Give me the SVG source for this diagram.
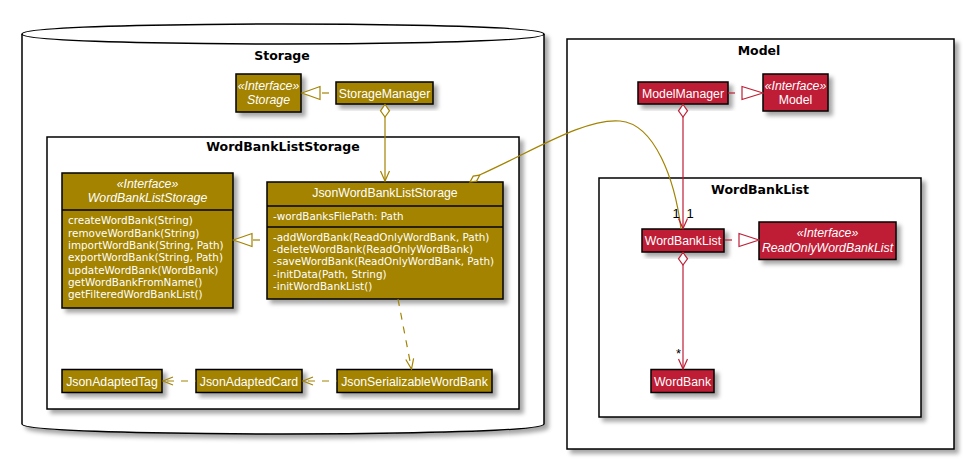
<svg xmlns="http://www.w3.org/2000/svg" width="963" height="459" viewBox="0 0 963 459">
<defs>
<filter id="sh" x="-10%" y="-10%" width="130%" height="140%"><feDropShadow dx="4" dy="4" stdDeviation="2" flood-color="#000" flood-opacity="0.35"/></filter>
</defs>
<style>
.pkg{fill:#fff;stroke:#000;stroke-width:1.5;filter:url(#sh)}
.st{fill:#A38300;stroke:#000;stroke-width:1.5;filter:url(#sh)}
.md{fill:#BF1F36;stroke:#000;stroke-width:1.5;filter:url(#sh)}
.cn{font-family:"Liberation Sans",Arial,sans-serif;font-size:12.3px;fill:#fff;text-anchor:middle}
.it{font-style:italic}
.mb{font-family:"DejaVu Sans",sans-serif;font-size:10.4px;fill:#fff}
.pt{font-family:"DejaVu Sans",sans-serif;font-weight:bold;font-size:12.5px;text-anchor:middle;fill:#000}
.sep{stroke:#000;stroke-width:1.5}
.gl{fill:none;stroke:#A38300;stroke-width:1.2}
.rl{fill:none;stroke:#BF1F36;stroke-width:1.2}
.gd{fill:#fff;stroke:#A38300;stroke-width:1.2}
.rd{fill:#fff;stroke:#BF1F36;stroke-width:1.2}
.lbl{font-family:"Liberation Sans",Arial,sans-serif;font-size:13px;fill:#000}
</style>

<g id="pkg-storage">
<path class="pkg" d="M22,34 C22,24 283,24 283,24 C283,24 544,24 544,34 L544,424 C544,434 283,434 283,434 C283,434 22,434 22,424 Z"/>
<path d="M22,34 C22,44 283,44 283,44 C283,44 544,44 544,34" fill="none" stroke="#000" stroke-width="1.5"/>
<text class="pt" x="282" y="60">Storage</text>
</g>
<g id="pkg-wordbankliststorage">
<rect class="pkg" x="47" y="137" width="472" height="272"/>
<text class="pt" x="283" y="151">WordBankListStorage</text>
</g>
<g id="pkg-model">
<rect class="pkg" x="567" y="39" width="387" height="410"/>
<text class="pt" x="759" y="55">Model</text>
</g>
<g id="pkg-wordbanklist">
<rect class="pkg" x="599" y="178" width="322" height="239"/>
<text class="pt" x="760" y="194">WordBankList</text>
</g>

<g id="Storage">
<rect class="st" x="236" y="74" width="65" height="38"/>
<text class="cn it" x="268.5" y="90">«Interface»</text>
<text class="cn it" x="268.5" y="104">Storage</text>
</g>
<g id="StorageManager">
<rect class="st" x="336" y="82" width="97" height="22"/>
<text class="cn" x="384.5" y="97.5">StorageManager</text>
</g>
<g id="WordBankListStorage">
<rect class="st" x="62" y="173" width="171" height="135"/>
<text class="cn it" x="147.5" y="188">«Interface»</text>
<text class="cn it" x="147.5" y="201.5">WordBankListStorage</text>
<line class="sep" x1="62" y1="210" x2="233" y2="210"/>
<text class="mb" x="68" y="224">createWordBank(String)</text>
<text class="mb" x="68" y="236.5">removeWordBank(String)</text>
<text class="mb" x="68" y="249">importWordBank(String, Path)</text>
<text class="mb" x="68" y="261.3">exportWordBank(String, Path)</text>
<text class="mb" x="68" y="273.6">updateWordBank(WordBank)</text>
<text class="mb" x="68" y="286">getWordBankFromName()</text>
<text class="mb" x="68" y="298.3">getFilteredWordBankList()</text>
</g>
<g id="JsonWordBankListStorage">
<rect class="st" x="267" y="182" width="236" height="117"/>
<text class="cn" x="385" y="197">JsonWordBankListStorage</text>
<line class="sep" x1="267" y1="206" x2="503" y2="206"/>
<text class="mb" x="273" y="219.5">-wordBanksFilePath: Path</text>
<line class="sep" x1="267" y1="227" x2="503" y2="227"/>
<text class="mb" x="273" y="240.5">-addWordBank(ReadOnlyWordBank, Path)</text>
<text class="mb" x="273" y="253">-deleteWordBank(ReadOnlyWordBank)</text>
<text class="mb" x="273" y="265.3">-saveWordBank(ReadOnlyWordBank, Path)</text>
<text class="mb" x="273" y="277.6">-initData(Path, String)</text>
<text class="mb" x="273" y="290">-initWordBankList()</text>
</g>
<g id="JsonAdaptedTag">
<rect class="st" x="62" y="369.5" width="100" height="23"/>
<text class="cn" x="112" y="385.5">JsonAdaptedTag</text>
</g>
<g id="JsonAdaptedCard">
<rect class="st" x="196" y="369.5" width="106" height="23"/>
<text class="cn" x="249" y="385.5">JsonAdaptedCard</text>
</g>
<g id="JsonSerializableWordBank">
<rect class="st" x="337" y="369.5" width="155" height="23"/>
<text class="cn" x="414.5" y="385.5">JsonSerializableWordBank</text>
</g>

<g id="ModelManager">
<rect class="md" x="638" y="82" width="90" height="22"/>
<text class="cn" x="683" y="97.5">ModelManager</text>
</g>
<g id="Model">
<rect class="md" x="763" y="74" width="65" height="37"/>
<text class="cn it" x="795.5" y="90">«Interface»</text>
<text class="cn" x="795.5" y="104">Model</text>
</g>
<g id="WordBankList">
<rect class="md" x="642" y="229" width="82" height="23"/>
<text class="cn" x="683" y="245">WordBankList</text>
</g>
<g id="ReadOnlyWordBankList">
<rect class="md" x="759" y="222" width="137" height="37.5"/>
<text class="cn it" x="827.5" y="236.5">«Interface»</text>
<text class="cn it" x="827.5" y="251.5">ReadOnlyWordBankList</text>
</g>
<g id="WordBank">
<rect class="md" x="651" y="369.5" width="63" height="23"/>
<text class="cn" x="682.5" y="385.5">WordBank</text>
</g>

<g id="connectors">
<line class="gl" x1="322" y1="93" x2="329" y2="93"/>
<polygon class="gd" points="302,93 320,86.5 320,99.5"/>
<line class="gl" x1="253" y1="240" x2="260" y2="240"/>
<polygon class="gd" points="233.5,240 252,233.5 252,246.5"/>
<line class="gl" x1="385" y1="117" x2="385" y2="181"/>
<polygon class="gd" points="385,104.5 389.5,110.8 385,117 380.5,110.8"/>
<polyline class="gl" points="380.5,171 385,181 389.5,171"/>
<line class="gl" x1="398" y1="299" x2="411.5" y2="369" stroke-dasharray="7,7"/>
<polyline class="gl" points="405.8,359.5 411.5,369 413.6,358.3"/>
<line class="gl" x1="337" y1="381" x2="303" y2="381" stroke-dasharray="7,7" stroke-dashoffset="6"/>
<polyline class="gl" points="313,377 303,381 313,385"/>
<line class="gl" x1="196" y1="381" x2="163" y2="381" stroke-dasharray="7,7" stroke-dashoffset="6"/>
<polyline class="gl" points="173,377 163,381 173,385"/>
<path class="gl" d="M479.5,175 C535,150 585,118 620,121 C655,124 675,180 681,229"/>
<polygon class="gd" points="470,182 476.6,181.1 479.8,175.1 473.2,176.1"/>
<line class="rl" x1="728" y1="93" x2="735" y2="93"/>
<polygon class="rd" points="763,93 742,86.5 742,99.5"/>
<line class="rl" x1="725" y1="240" x2="732" y2="240"/>
<polygon class="rd" points="759,240 739,233.5 739,246.5"/>
<line class="rl" x1="683" y1="117" x2="683" y2="228.5"/>
<polygon class="rd" points="683,104.5 687.5,110.8 683,117 678.5,110.8"/>
<polyline class="rl" points="678.5,218.5 683,228.5 687.5,218.5"/>
<line class="rl" x1="683" y1="265" x2="683" y2="369"/>
<polygon class="rd" points="683,252.5 687.5,258.8 683,265 678.5,258.8"/>
<polyline class="rl" points="678.5,359 683,369 687.5,359"/>
<text class="lbl" x="672.5" y="217.5">1</text>
<text class="lbl" x="686.5" y="217.5">1</text>
<text class="lbl" x="676" y="358">*</text>
</g>
</svg>
